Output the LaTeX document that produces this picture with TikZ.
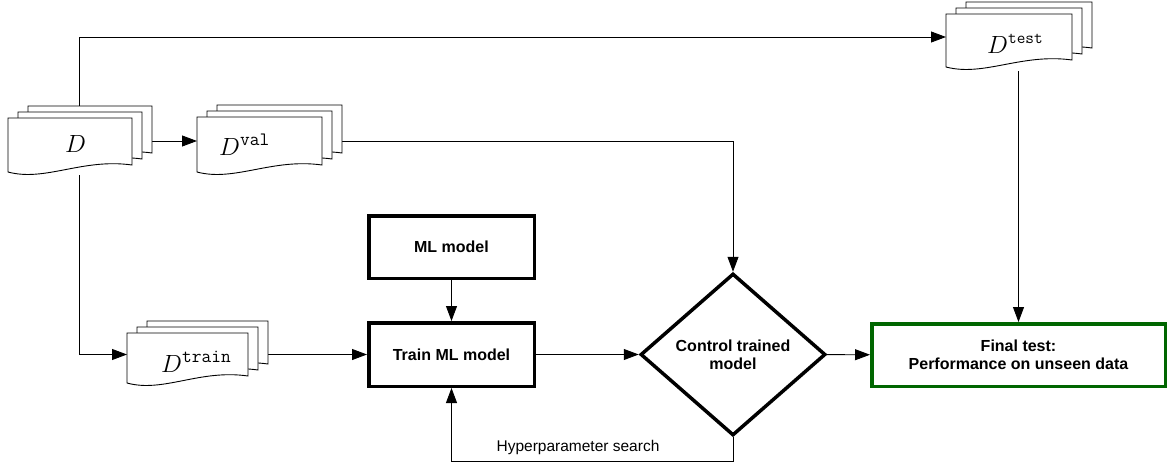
\documentclass[tikz,border=0pt]{standalone}
\usepackage{fontspec}
\setsansfont{Liberation Sans}
\usetikzlibrary{arrows.meta,shapes.geometric,calc}
\pgfdeclarelayer{bg}
\pgfsetlayers{bg,main}
\definecolor{finalgreen}{RGB}{0,102,0}

% one page of a document stack: left, top, width, height (wavy bottom edge)
\newcommand{\docsheet}[4]{%
  \path[sheet] (#1,#2) -- (#1+#3,#2) -- (#1+#3,#2+#4-7)
    .. controls (#1+0.6*#3,#2+#4-14) and (#1+0.3*#3,#2+#4+10) .. (#1,#2+#4) -- cycle;}
% a stack of three pages, front page given by left, top, width, height
\newcommand{\docstack}[4]{%
  \docsheet{#1+20}{#2-12}{#3}{#4}%
  \docsheet{#1+10}{#2-6}{#3}{#4}%
  \docsheet{#1}{#2}{#3}{#4}}

\begin{document}
\begin{tikzpicture}[x=1pt,y=-1pt,
  sheet/.style={draw=black,fill=white,line width=0.9pt},
  stackarea/.style={inner sep=0pt,outer sep=0pt},
  doclabel/.style={inner sep=0pt,anchor=base west,font=\fontsize{27}{30}\selectfont},
  thickbox/.style={draw=black,line width=3.5pt,inner sep=2pt,align=center,
    font=\sffamily\bfseries\fontsize{16}{18}\selectfont},
  decision/.style={thickbox,diamond,minimum width=185pt,minimum height=162pt,inner sep=0pt},
  finalbox/.style={thickbox,draw=finalgreen},
  conn/.style={draw=black,line width=0.9pt,-{Triangle[length=15pt,width=11pt]}},
  note/.style={font=\sffamily\fontsize{15.5}{18}\selectfont,inner sep=0pt}]

\useasboundingbox (0,0) rectangle (1168,463);

% document stacks
\docstack{8}{118}{124}{54}
\docstack{197}{117}{125}{55}
\docstack{127}{333}{121}{50}
\docstack{946}{14}{126}{53}

% areas covered by each stack, used as connector anchors
\node[stackarea,minimum width=144pt,minimum height=68pt] (D) at (79,141) {};
\node[stackarea,minimum width=145pt,minimum height=72pt] (Dval) at (269.5,141) {};
\node[stackarea,minimum width=141pt,minimum height=68pt] (Dtrain) at (197.5,355) {};
\node[stackarea,minimum width=146pt,minimum height=68pt] (Dtest) at (1019,37) {};

% stack labels
\node[doclabel] (Dtext) at (65,152) {$D$};
\node[doclabel] (Dvaltext) at (219,155) {$D^{\mathtt{val}}$};
\node[doclabel] (Dtraintext) at (161,372) {$D^{\mathtt{train}}$};
\node[doclabel,font=\fontsize{24}{28}\selectfont] (Dtesttext) at (987,53) {$D^{\mathtt{test}}$};

% process boxes
\node[thickbox,minimum width=165.5pt,minimum height=62.5pt] (ml) at (451.5,247) {ML model};
\node[thickbox,minimum width=165.5pt,minimum height=63.5pt] (train) at (451.5,354.5) {Train ML model};
\node[decision] (ctrl) at (733,354.5) {Control trained\\model};
\node[finalbox,minimum width=293.5pt,minimum height=62.5pt] (final) at (1018.5,355)
  {Final test:\\Performance on unseen data};

\coordinate (hp) at (0,461);
\node[note] (hplabel) at (578,447) {Hyperparameter search};

% connectors
\begin{pgfonlayer}{bg}
  \path[conn] (D.north) |- (Dtest.west);
  \path[conn] (D.east) -- (D.east -| Dval.west);
  \path[conn] (D.south) |- (train.west -| Dtrain.west);
  \path[conn] (train.west -| Dtrain.east) -- (train.west);
  \path[conn] (Dval.east) -| (ctrl.north);
  \path[conn] (Dtest.south -| final.north) -- (final.north);
\end{pgfonlayer}
\path[conn] (ml) -- (train);
\path[conn] (train) -- (ctrl);
\path[conn] (ctrl) -- (final);
\path[conn] (ctrl.south) -- (ctrl.south |- hp) -| (train.south);

\end{tikzpicture}
\end{document}
